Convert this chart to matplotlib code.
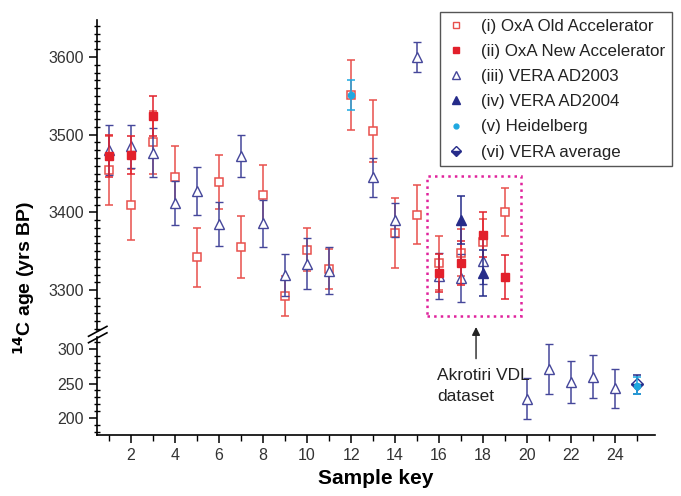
import matplotlib
matplotlib.use("Agg")
import matplotlib.pyplot as plt
from matplotlib.lines import Line2D
from matplotlib.patches import Rectangle

plt.rcParams['font.family'] = ['Liberation Sans', 'DejaVu Sans']

# --------- DATA ---------
old_x = [1, 2, 3, 4, 5, 6, 7, 8, 9, 10, 11, 12, 13, 14, 15, 16, 17, 18, 19]
old_y = [3454, 3410, 3490, 3446, 3342, 3439, 3355, 3422, 3292, 3352, 3327,
         3551, 3505, 3374, 3397, 3335, 3348, 3362, 3400]
old_err = [44, 46, 40, 39, 38, 35, 40, 39, 26, 28, 26, 45, 40, 45, 38, 35, 30, 30, 31]

new_x = [1, 2, 3, 16, 17, 18, 19]
new_y = [3472, 3474, 3524, 3322, 3335, 3371, 3317]
new_err = [27, 24, 26, 25, 28, 29, 28]

v03_x = [1, 2, 3, 4, 5, 6, 7, 8, 9, 10, 11, 13, 14, 15, 16, 17, 18,
         20, 21, 22, 23, 24]
v03_y = [3480, 3485, 3477, 3412, 3427, 3385, 3472, 3386, 3319, 3334, 3325,
         3445, 3390, 3600, 3318, 3315, 3338, 228, 271, 252, 260, 243]
v03_err = [32, 28, 31, 28, 31, 28, 27, 30, 27, 33, 30, 25, 22, 19, 30, 31, 30,
           30, 36, 30, 31, 28]

v04_x = [17, 18]
v04_y = [3390, 3322]
v04_err = [31, 30]

heid_x = [12, 25]
heid_y = [3551, 247]
heid_err = [19, 12]

avg_x = [25]
avg_y = [249]
avg_err = [14]

labels = ["(i) OxA Old Accelerator", "(ii) OxA New Accelerator",
          "(iii) VERA AD2003", "(iv) VERA AD2004", "(v) Heidelberg",
          "(vi) VERA average"]

# --------- STYLE ---------
RED_LIGHT = "#e8504c"
RED = "#e2202b"
NAVY = "#45479a"
NAVY_DARK = "#262c8a"
CYAN = "#1ea8e0"
MAGENTA = "#e0229c"

fig = plt.figure(figsize=(6.81, 4.96), dpi=100)
ax_top = fig.add_axes([0.1424, 0.3347, 0.8196, 0.625])
ax_bot = fig.add_axes([0.1424, 0.123, 0.8196, 0.1976])

eb = dict(linestyle="none", capsize=3, capthick=1.1, elinewidth=1.1)


def draw(ax):
    ax.errorbar(old_x, old_y, yerr=old_err, fmt="s", color=RED_LIGHT, ms=6,
                mfc="white", mec=RED_LIGHT, mew=1.1, zorder=2, **eb)
    ax.errorbar(v03_x, v03_y, yerr=v03_err, fmt="^", color=NAVY, ms=7.5,
                mfc="white", mec=NAVY, mew=1.0, zorder=3, **eb)
    ax.errorbar(new_x, new_y, yerr=new_err, fmt="s", color=RED, ms=5.5,
                mfc=RED, mec=RED, zorder=4, **eb)
    ax.errorbar(v04_x, v04_y, yerr=v04_err, fmt="^", color=NAVY_DARK, ms=7,
                mfc=NAVY_DARK, mec=NAVY_DARK, zorder=4, **eb)
    ax.errorbar(avg_x, avg_y, yerr=avg_err, fmt="D", color=NAVY_DARK, ms=6,
                fillstyle="bottom", mfc=NAVY_DARK, mfcalt="white",
                mec=NAVY_DARK, zorder=5, **eb)
    ax.errorbar(heid_x, heid_y, yerr=heid_err, fmt="o", color=CYAN, ms=4.5,
                mfc=CYAN, mec=CYAN, zorder=6, **eb)


draw(ax_top)
draw(ax_bot)

for ax in (ax_top, ax_bot):
    ax.set_xlim(0.45, 25.82)
    for s in ("top", "right"):
        ax.spines[s].set_visible(False)
    ax.spines["left"].set_linewidth(1.2)
    ax.tick_params(axis="y", which="major", direction="out", length=6,
                   width=1.1, labelsize=11.5)
    ax.tick_params(axis="y", which="minor", direction="inout", length=5,
                   width=1.0)

ax_top.set_ylim(3248.6, 3647.6)
ax_top.set_yticks([3300, 3400, 3500, 3600])
ax_top.set_yticks(range(3250, 3650, 10), minor=True)
ax_top.spines["bottom"].set_visible(False)
ax_top.tick_params(axis="x", which="both", bottom=False, labelbottom=False)

ax_bot.set_ylim(175.4, 317.4)
ax_bot.set_yticks([200, 250, 300])
ax_bot.set_yticks(range(180, 320, 10), minor=True)
ax_bot.spines["bottom"].set_linewidth(1.2)
ax_bot.set_xticks(range(2, 26, 2))
ax_bot.set_xticks(range(1, 26, 2), minor=True)
ax_bot.tick_params(axis="x", which="major", direction="out", length=6,
                   width=1.1, labelsize=11.5)
ax_bot.tick_params(axis="x", which="minor", direction="out", length=4,
                   width=1.0)
for lab in ax_bot.get_xticklabels() + ax_bot.get_yticklabels() + ax_top.get_yticklabels():
    lab.set_color("#333333")

ax_bot.set_xlabel("Sample key", fontsize=15, fontweight="bold", labelpad=4)
fig.text(0.035, 0.44, r"$^{\mathbf{14}}$C age (yrs BP)", rotation=90,
         fontsize=14, fontweight="bold", ha="center", va="center")

# axis break marks
for dy in (0.0, -0.013):
    fig.add_artist(Line2D([0.130, 0.157], [0.322 + dy, 0.342 + dy],
                          color="black", lw=1.2))

# Akrotiri box and annotation
ax_top.add_patch(Rectangle((15.45, 3267), 19.73 - 15.45, 3447 - 3267,
                           fill=False, edgecolor=MAGENTA, linestyle=":",
                           linewidth=1.8, zorder=1))
ax_bot.annotate("", xy=(17.68, 3256), xycoords=ax_top.transData,
                xytext=(17.68, 282), textcoords=ax_bot.transData,
                arrowprops=dict(arrowstyle="-|>", color="#222222", lw=1.0,
                                mutation_scale=12))
ax_bot.text(15.9, 272, "Akrotiri VDL\ndataset", fontsize=12.5, ha="left",
            va="top", color="#222222", linespacing=1.45)

# legend
handles = [
    Line2D([], [], ls="none", marker="s", ms=5, mfc="white", mec=RED_LIGHT),
    Line2D([], [], ls="none", marker="s", ms=5, mfc=RED, mec=RED),
    Line2D([], [], ls="none", marker="^", ms=6, mfc="white", mec=NAVY),
    Line2D([], [], ls="none", marker="^", ms=6, mfc=NAVY_DARK, mec=NAVY_DARK),
    Line2D([], [], ls="none", marker="o", ms=3.5, mfc=CYAN, mec=CYAN),
    Line2D([], [], ls="none", marker="D", ms=5.5, fillstyle="bottom",
           mfc=NAVY_DARK, mfcalt="white", mec=NAVY_DARK),
]
leg = fig.legend(handles, labels, loc="upper right",
                 bbox_to_anchor=(0.9868, 0.9758), borderaxespad=0,
                 fontsize=12.2, fancybox=False, edgecolor="#555555",
                 framealpha=1, handlelength=1.0, handletextpad=1.0,
                 labelspacing=0.6, borderpad=0.4)
leg.get_frame().set_linewidth(1.0)
for t in leg.get_texts():
    t.set_color("#222222")

plt.savefig("out.png", dpi=100)
plt.close()
